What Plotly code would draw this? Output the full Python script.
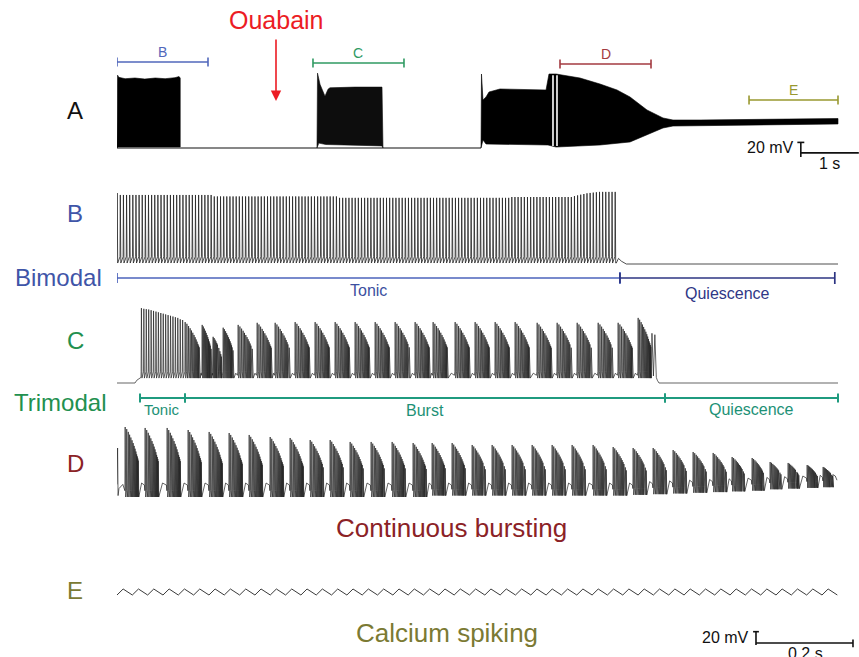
import numpy as np
import plotly.graph_objects as go

# ======================= DATA =======================
# ---- Panel A : whole recording, time in s, potential in mV ----
A_REST_T = [0.0, 6.276]
A_REST_V = [-60.0, -60.0]
# tonic block (B)
A1_UP_T = [0.0, 0.01, 0.03, 0.14, 0.31, 0.48, 0.66, 0.83, 1.00, 1.07, 1.09]
A1_UP_V = [-60, 44, 41, 39, 40, 38.5, 40, 39, 40.5, 42, 40]
A1_LO_T = [0.0, 0.01, 1.09]
A1_LO_V = [-60, -58.5, -58.5]
# trimodal block (C)
A2_UP_T = [3.448, 3.457, 3.50, 3.586, 3.638, 3.672, 4.10, 4.569, 4.586]
A2_UP_V = [-60, 47, 31, 14, 24, 26, 27, 27, -60]
A2_LO_T = [3.448, 3.48, 3.60, 4.569, 4.586]
A2_LO_V = [-60, -53, -55, -57, -60]
# continuous bursting (D) -> calcium spiking (E)
A3_UP_T = [6.276, 6.284, 6.31, 6.362, 6.414, 6.603, 7.397, 7.431, 7.448, 7.569, 7.69,
           7.983, 8.328, 8.621, 8.845, 9.138, 9.414, 9.586, 10.052, 10.914, 12.431]
A3_UP_V = [-60, 45.7, 8.6, 12.9, 20, 24.3, 22.9, 37.1, 45.7, 45.7, 44.3,
           40, 31.4, 22.9, 12.9, -5.7, -17.1, -20, -20, -19.3, -17.9]
A3_LO_T = [6.276, 6.31, 6.362, 7.431, 7.569, 8.328, 8.845, 9.138, 9.414, 9.586, 10.052, 12.431]
A3_LO_V = [-60, -48.6, -54.3, -55.7, -58.6, -55.7, -51.4, -41.4, -31.4, -28.6, -28.6, -25.7]
A_GAP_T = [7.517, 7.586]                     # white gaps in the trace
A_BRACKETS = [("B", 0.0, 1.569), ("C", 3.379, 4.948), ("D", 7.638, 9.207), ("E", 10.897, 12.431)]

# ---- Panel B : bimodal (tonic -> quiescence), time in ms ----
B_FIRST_MS = 0.0
B_ISI_MS = 6.458
B_PEAKS = ([41.4] + [38.6] * 30 + [36.5] * 40 + [34.5] * 55 + [35.7] * 20 +
           [37, 38, 39, 40, 41, 41.5, 42, 42.5, 43, 43, 43, 43, 43, 43])
B_TROUGH = -58.6
B_TAIL_T = [1029.5, 1034, 1040, 1050, 1486.6]
B_TAIL_V = [-58.6, -52, -56, -60, -60]
B_PHASES = [("Tonic", 0.0, 1037.0), ("Quiescence", 1037.0, 1480.0)]

# ---- Panel C : trimodal (tonic -> burst -> quiescence), time in ms ----
C_PRE_T = [0, 37.1, 41, 49.5]
C_PRE_V = [-60, -60, -56, -52]
C_TONIC_FIRST_MS = 50.0
C_TONIC_ISI_MS = 5.0
C_TONIC_PEAKS = [47, 46, 45.5, 45, 44, 43, 42, 41, 40, 39, 38, 37, 36, 35, 34, 33, 31, 30]
C_TROUGH = -53.0
C_BURST_T = [140.2, 175.3, 197.9, 218.6, 249.5, 288.7, 325.8, 367.0, 408.2, 449.5, 490.7,
             532.0, 573.2, 614.4, 651.5, 696.9, 738.1, 779.4, 820.6, 866.0, 907.2, 948.5,
             991.8, 1033.0, 1074.2]
C_BURST_TOP = [27, 23, 6, 19, 23, 26, 26, 27, 27, 27, 27, 27, 27, 27, 27, 27, 27, 27, 27,
               26, 26, 26, 26, 26, 33]
C_BURST_DUR = [30, 19, 17, 21, 30, 30, 30, 30, 30, 30, 30, 30, 30, 30, 30, 30, 30, 30, 30,
               30, 30, 30, 30, 30, 26]
C_HUMP = -46.0
C_TAIL_T = [1103, 1106, 1109, 1112, 1114, 1117.5, 1486.6]
C_TAIL_V = [11, -50, 9, -52, -56, -60, -60]
C_PHASES = [("Tonic", 47.4, 140.2), ("Burst", 140.2, 1129.9), ("Quiescence", 1129.9, 1486.6)]

# ---- Panel D : continuous bursting, time in ms ----
D_PRE_T = [0, 1.2, 2.2, 4.0, 12.0]
D_PRE_V = [-52, 0, -68, -58, -52]
D_BURST_T = [16.5, 57.7, 103.1, 146.4, 189.7, 230.9, 272.2, 315.5, 356.7, 398.0, 439.2, 480.4,
             523.7, 567.0, 610.3, 649.5, 690.7, 732.0, 773.2, 814.4, 855.7, 896.9, 938.1,
             981.4, 1022.7, 1063.9, 1105.2, 1146.4, 1187.6, 1228.9, 1268.0, 1309.3, 1346.4,
             1383.5, 1422.7, 1455.7]
D_BURST_TOP = [30, 28.6, 28.6, 25.7, 22.9, 21.4, 18.6, 15.7, 14.3, 11.4, 11.4, 8.6, 8.6, 8.6,
               7.1, 7.1, 7.1, 4.3, 4.3, 4.3, 4.3, 4.3, 4.3, 4.3, 1.4, 0, 0, -2.9, -5.7, -7.1,
               -12.9, -14.3, -20, -21.4, -24.3, -27.1]
D_TROUGH = [-70] * 15 + [-68] * 10 + [-67, -66, -65, -64, -63, -62, -61, -59, -58, -57, -56]
D_HUMP = [-50] * 25 + [-48, -47, -46, -45, -44, -43, -42, -41, -40, -39, -38]
D_BURST_DUR = [27] * 30 + [25, 24, 23, 22, 21, 20]
D_POST_T = [1476, 1481, 1484.5]
D_POST_V = [-38, -40, -46]

# burst template: spike position (fraction of burst duration) and relative height
BURST_FRAC = [0, .12, .235, .34, .435, .525, .61, .685, .755, .82, .875, .925, .965, 1.0]
BURST_REL = [1.0, .97, .93, .89, .85, .81, .77, .73, .69, .65, .61, .58, .55, .52]

# ---- Panel E : calcium spiking, time in ms ----
E_FIRST_MS = 0.0
E_PERIOD_MS = 31.6
E_PEAKS = [-35.7] * 47
E_TROUGHS = [-44.3] * 48

# ======================= LAYOUT CONSTANTS =======================
W, H = 859, 657
X_LEFT = 117
PX_PER_MV = 0.7
FONT = "Arial, 'Liberation Sans', Helvetica, sans-serif"
PANELS = {  # axis suffix, px per time unit, y top px, y bottom px, ref px, ref mV
    "A": ("", 58.0, 55, 162, 148, -60.0),
    "B": ("2", 0.485, 178, 272, 264, -60.0),
    "C": ("3", 0.485, 298, 392, 383, -60.0),
    "D": ("4", 0.485, 412, 505, 490, -60.0),
    "E": ("5", 0.485, 570, 657, 592, -40.0),
}

fig = go.Figure()
layout_axes = {}
for key, (sfx, rate, ytop, ybot, rpx, rmv) in PANELS.items():
    layout_axes["xaxis" + sfx] = dict(domain=[X_LEFT / W, 1.0], range=[0, (W - X_LEFT) / rate],
                                      visible=False, anchor="y" + sfx, fixedrange=True)
    layout_axes["yaxis" + sfx] = dict(domain=[1 - ybot / H, 1 - ytop / H],
                                      range=[rmv - (ybot - rpx) / PX_PER_MV, rmv + (rpx - ytop) / PX_PER_MV],
                                      visible=False, anchor="x" + sfx, fixedrange=True)


def axref(key):
    s = PANELS[key][0]
    return "x" + s, "y" + s


def add_line(key, xs, ys, color="#151515", width=0.8):
    xr, yr = axref(key)
    fig.add_trace(go.Scatter(x=xs, y=ys, mode="lines", line=dict(color=color, width=width),
                             xaxis=xr, yaxis=yr, hoverinfo="skip", showlegend=False))


def add_block(key, ut, uv, lt, lv, color="#000000"):
    xs = list(ut) + list(lt)[::-1] + [ut[0]]
    ys = list(uv) + list(lv)[::-1] + [uv[0]]
    xr, yr = axref(key)
    fig.add_trace(go.Scatter(x=xs, y=ys, mode="lines", fill="toself", fillcolor=color,
                             line=dict(color=color, width=0.6), xaxis=xr, yaxis=yr,
                             hoverinfo="skip", showlegend=False))


def spike_pts(times, peaks, troughs, thr_off=9.0, rise=0.35, fall=1.1, pre=0.3):
    xs, ys = [], []
    for t, p, tr in zip(times, peaks, troughs):
        xs += [t - pre, t + rise, t + rise + fall]
        ys += [tr + thr_off, p, tr]
    return xs, ys


def burst_pts(onsets, tops, troughs, humps, durs):
    xs, ys = [], []
    n = len(onsets)
    for i in range(n):
        t0, top, tr, dur = onsets[i], tops[i], troughs[i], durs[i]
        times = [t0 + f * dur for f in BURST_FRAC]
        peaks = [tr + r * (top - tr) for r in BURST_REL]
        sx, sy = spike_pts(times, peaks, [tr] * len(times))
        xs += sx
        ys += sy
        if i + 1 < n:
            t_last = times[-1] + 1.5
            nxt = onsets[i + 1]
            xs += [t_last + 0.45 * (nxt - t_last), nxt - 1.2]
            ys += [humps[i], humps[i] - 3]
    return xs, ys


# ---------------- Panel A ----------------
add_line("A", A_REST_T, A_REST_V, color="#111", width=1.2)
add_block("A", A1_UP_T, A1_UP_V, A1_LO_T, A1_LO_V)
add_block("A", A2_UP_T, A2_UP_V, A2_LO_T, A2_LO_V, color="#0d0d0d")
add_block("A", A3_UP_T, A3_UP_V, A3_LO_T, A3_LO_V)
for tg in A_GAP_T:
    add_line("A", [tg, tg], [-57, 44], color="#ffffff", width=1.6)

# ---------------- Panel B ----------------
b_times = [B_FIRST_MS + k * B_ISI_MS for k in range(len(B_PEAKS))]
bx, by = spike_pts(b_times, B_PEAKS, [B_TROUGH] * len(B_PEAKS))
add_line("B", [-1] + bx + B_TAIL_T, [B_TROUGH] + by + B_TAIL_V, color="#222", width=0.8)

# ---------------- Panel C ----------------
c_tt = [C_TONIC_FIRST_MS + k * C_TONIC_ISI_MS for k in range(len(C_TONIC_PEAKS))]
tx, ty = spike_pts(c_tt, C_TONIC_PEAKS, [C_TROUGH] * len(C_TONIC_PEAKS))
cx, cy = burst_pts(C_BURST_T, C_BURST_TOP, [C_TROUGH] * len(C_BURST_T),
                   [C_HUMP] * len(C_BURST_T), C_BURST_DUR)
add_line("C", C_PRE_T + tx + cx + C_TAIL_T, C_PRE_V + ty + cy + C_TAIL_V, color="#222", width=0.7)

# ---------------- Panel D ----------------
dx, dy = burst_pts(D_BURST_T, D_BURST_TOP, D_TROUGH, D_HUMP, D_BURST_DUR)
add_line("D", D_PRE_T + dx + D_POST_T, D_PRE_V + dy + D_POST_V, color="#222", width=0.7)

# ---------------- Panel E ----------------
ex, ey = [], []
for k in range(len(E_PEAKS)):
    t0 = E_FIRST_MS + k * E_PERIOD_MS
    ex += [t0, t0 + 0.4 * E_PERIOD_MS]
    ey += [E_TROUGHS[k], E_PEAKS[k]]
ex.append(E_FIRST_MS + len(E_PEAKS) * E_PERIOD_MS)
ey.append(E_TROUGHS[-1])
add_line("E", ex, ey, color="#3a3a3a", width=1.0)

# ======================= DECORATIONS =======================
shapes = []
annotations = []


def ann(text, xpx, ypx, size, color, xanchor="center"):
    annotations.append(dict(text=text, x=xpx / W, y=1 - ypx / H, xref="paper", yref="paper",
                            xanchor=xanchor, yanchor="middle", showarrow=False,
                            font=dict(family=FONT, size=size, color=color)))


def hline(key, t0, t1, ypx, color, width):
    xr, _ = axref(key)
    shapes.append(dict(type="line", xref=xr, yref="paper", x0=t0, x1=t1,
                       y0=1 - ypx / H, y1=1 - ypx / H, line=dict(color=color, width=width)))


def vtick(key, t, ypx, half, color, width):
    xr, _ = axref(key)
    shapes.append(dict(type="line", xref=xr, yref="paper", x0=t, x1=t,
                       y0=1 - (ypx - half) / H, y1=1 - (ypx + half) / H,
                       line=dict(color=color, width=width)))


# brackets above panel A
A_BR_STYLE = {"B": ("#5167bb", 62), "C": ("#2f9a62", 63), "D": ("#a33a40", 64), "E": ("#99982f", 100)}
for lab, t0, t1 in A_BRACKETS:
    col, yb = A_BR_STYLE[lab]
    hline("A", t0, t1, yb, col, 1.6)
    vtick("A", t0, yb, 4.5, col, 1.6)
    vtick("A", t1, yb, 4.5, col, 1.6)
    xr, _ = axref("A")
    annotations.append(dict(text=lab, x=(t0 + t1) / 2, y=1 - (yb - 10) / H, xref=xr, yref="paper",
                            showarrow=False, font=dict(family=FONT, size=14, color=col),
                            xanchor="center", yanchor="middle"))

# phase bars under B and C
B_PH_STYLE = {"Tonic": ("#4b63bb", "#3c4fa0", 16, 290), "Quiescence": ("#2c3482", "#2f3786", 16, 293)}
for lab, t0, t1 in B_PHASES:
    lc, tc, fs, ty_ = B_PH_STYLE[lab]
    hline("B", t0, t1, 278, lc, 1.7)
    vtick("B", t0, 278, 5, lc, 1.7)
    vtick("B", t1, 278, 6, lc, 1.7)
    annotations.append(dict(text=lab, x=(t0 + t1) / 2, y=1 - ty_ / H, xref="x2", yref="paper",
                            showarrow=False, font=dict(family=FONT, size=fs, color=tc),
                            xanchor="center", yanchor="middle"))

C_COL = "#1f9b7f"
for lab, t0, t1 in C_PHASES:
    hline("C", t0, t1, 398, C_COL, 1.8)
    vtick("C", t0, 398, 4.5, C_COL, 2.0)
    vtick("C", t1, 398, 4.5, C_COL, 2.0)
C_TXT = {"Tonic": (409, 15), "Burst": (410, 16), "Quiescence": (409, 16)}
for lab, t0, t1 in C_PHASES:
    ty_, fs = C_TXT[lab]
    annotations.append(dict(text=lab, x=(t0 + t1) / 2, y=1 - ty_ / H, xref="x3", yref="paper",
                            showarrow=False, font=dict(family=FONT, size=fs, color="#1d9176"),
                            xanchor="center", yanchor="middle"))

# panel letters and titles
ann("Ouabain", 276, 20, 25, "#ec1c24")
ann("A", 75, 110, 24, "#111111")
ann("B", 75, 213, 24, "#3f55a8")
ann("Bimodal", 58, 277, 24, "#3f55a8")
ann("C", 75, 340, 24, "#22904f")
ann("Trimodal", 60, 402, 24, "#22904f")
ann("D", 75, 463, 24, "#8b2226")
ann("Continuous bursting", 451, 528, 26, "#8b2226")
ann("E", 75, 590, 24, "#7b7a33")
ann("Calcium spiking", 447, 633, 26, "#7b7a33")

# Ouabain arrow
annotations.append(dict(text="", x=276 / W, y=1 - 101 / H, xref="paper", yref="paper",
                        ax=0, ay=-63, showarrow=True, arrowhead=2, arrowsize=1.3,
                        arrowwidth=1.6, arrowcolor="#ec1c24"))

# scale bar, panel A (20 mV, 1 s)
SA_T, SA_V, SA_H = 11.79, -73.0, -67.0
shapes += [
    dict(type="line", xref="x", yref="y", x0=SA_T, x1=SA_T, y0=SA_V, y1=SA_V + 21, line=dict(color="#111", width=1.6)),
    dict(type="line", xref="x", yref="y", x0=SA_T - 0.06, x1=SA_T + 0.06, y0=SA_V + 21, y1=SA_V + 21, line=dict(color="#111", width=1.6)),
    dict(type="line", xref="x", yref="y", x0=SA_T, x1=SA_T + 1.0, y0=SA_H, y1=SA_H, line=dict(color="#111", width=1.6)),
]
annotations.append(dict(text="20 mV", x=SA_T, y=-58.6, xref="x", yref="y", xanchor="right", xshift=-5,
                        yanchor="middle", showarrow=False, font=dict(family=FONT, size=16, color="#111")))
annotations.append(dict(text="1 s", x=12.29, y=SA_H, xref="x", yref="y", xanchor="center",
                        yanchor="top", showarrow=False, font=dict(family=FONT, size=16, color="#111")))

# scale bar, panels B-E (20 mV, 0.2 s)
SB_T, SB_V, SB_H = 1317.5, -115.7, -112.9
shapes += [
    dict(type="line", xref="x5", yref="y5", x0=SB_T, x1=SB_T, y0=SB_V, y1=SB_V + 19, line=dict(color="#111", width=1.6)),
    dict(type="line", xref="x5", yref="y5", x0=SB_T - 6, x1=SB_T + 6, y0=SB_V + 19, y1=SB_V + 19, line=dict(color="#111", width=1.6)),
    dict(type="line", xref="x5", yref="y5", x0=SB_T, x1=SB_T + 200, y0=SB_H, y1=SB_H, line=dict(color="#111", width=1.6)),
    dict(type="line", xref="x5", yref="y5", x0=SB_T + 200, x1=SB_T + 200, y0=SB_H - 6, y1=SB_H + 5, line=dict(color="#111", width=1.6)),
]
annotations.append(dict(text="20 mV", x=SB_T, y=-105.7, xref="x5", yref="y5", xanchor="right", xshift=-5,
                        yanchor="middle", showarrow=False, font=dict(family=FONT, size=16, color="#111")))
annotations.append(dict(text="0.2 s", x=1418.6, y=SB_H, xref="x5", yref="y5", xanchor="center",
                        yanchor="top", showarrow=False, font=dict(family=FONT, size=16, color="#111")))

fig.update_layout(
    width=W, height=H, autosize=False,
    margin=dict(l=0, r=0, t=0, b=0, pad=0),
    paper_bgcolor="white", plot_bgcolor="white",
    showlegend=False, shapes=shapes, annotations=annotations,
    **layout_axes,
)
fig.write_html("out.html", config={"displayModeBar": False, "staticPlot": True},
               post_script="document.body.style.margin='0';document.body.style.overflow='hidden';")
